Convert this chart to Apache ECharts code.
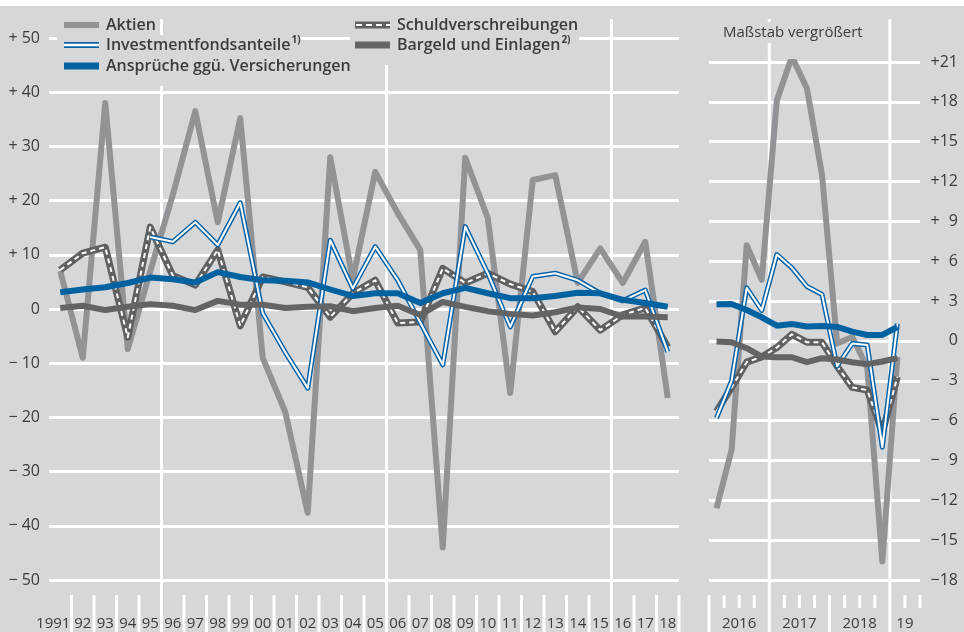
<!DOCTYPE html>
<html>
<head>
<meta charset="utf-8">
<script src="https://cdn.jsdelivr.net/npm/echarts@6/dist/echarts.min.js"></script>
<style>
    html, body { margin: 0; padding: 0; background: #fff; }
    #main { width: 964px; height: 632px; }
</style>
</head>
<body>
<div id="main"></div>
<script>
// Jahreswerte 1991 - 2018
var years = ['1991', '92', '93', '94', '95', '96', '97', '98', '99', '00', '01', '02', '03', '04',
    '05', '06', '07', '08', '09', '10', '11', '12', '13', '14', '15', '16', '17', '18'];
var aktien = [7, -9, 38, -7.4, 7, 21, 36.5, 16, 35.2, -9, -19, -37.6, 28, 5.4,
    25.3, 17.7, 10.9, -44, 27.9, 16.8, -15.5, 23.8, 24.7, 4.8, 11.2, 4.8, 12.4, -16.4];
var fonds = [null, null, null, null, 13.3, 12.4, 16, 11.8, 19.6, -0.8, -8, -14.6, 12.7, 3.8,
    11.5, 5.3, -2.5, -10.3, 15.2, 6.6, -3.3, 6, 6.6, 5.3, 2.9, 1.5, 3.5, -7.9];
var schuldv = [7.2, 10.3, 11.4, -5.2, 15.1, 6.2, 4.4, 10.9, -3.1, 5.9, 5, 4, -1.5, 2.9,
    5.3, -2.6, -2.4, 7.5, 4.8, 6.6, 4.6, 3.2, -4.2, 0.4, -3.9, -1.1, 0.2, -7];
var ansprueche = [3.1, 3.6, 4, 4.8, 5.8, 5.5, 4.9, 6.8, 5.9, 5.3, 5.2, 4.9, 3.6, 2.4,
    2.9, 2.9, 1.1, 2.9, 3.9, 2.9, 2.0, 2.0, 2.4, 3.0, 2.9, 1.7, 1.1, 0.4];
var bargeld = [0.2, 0.6, -0.2, 0.4, 0.9, 0.6, -0.2, 1.5, 0.8, 0.8, 0.2, 0.4, 0.5, -0.4,
    0.2, 0.6, -1.1, 1.3, 0.4, -0.4, -0.9, -1.2, -0.6, 0.3, 0, -1.4, -1.4, -1.5];

// Quartalswerte 2016 Q1 - 2019 Q1 (Maßstab vergrößert)
var quarters = ['2016Q1', '2016Q2', '2016Q3', '2016Q4', '2017Q1', '2017Q2', '2017Q3', '2017Q4',
    '2018Q1', '2018Q2', '2018Q3', '2018Q4', '2019Q1', '2019Q2'];
var quarterLabels = ['', '2016', '', '', '', '2017', '', '', '', '2018', '', '', '19', ''];
var aktienQ = [-12.6, -8.2, 7.2, 4.6, 18.1, 21.4, 19.0, 12.5, -0.2, 0.3, -2.0, -16.6, -1.2];
var fondsQ = [-5.8, -3.0, 4.0, 2.3, 6.5, 5.5, 4.1, 3.5, -1.9, -0.2, -0.3, -8.0, 1.3];
var schuldvQ = [-5.3, -3.5, -1.6, -1.2, -0.5, 0.5, -0.1, -0.1, -1.9, -3.5, -3.7, -6.9, -2.7];
var answerQ = [2.76, 2.78, 2.33, 1.78, 1.15, 1.28, 1.08, 1.13, 1.05, 0.7, 0.45, 0.45, 1.05];
var bargeldQ = [-0.05, -0.1, -0.55, -1.18, -1.23, -1.23, -1.6, -1.3, -1.4, -1.6, -1.75, -1.55, -1.3];

var BG = '#d6d7d9';
var TXT = '#3c3c3e';
var FONT = 'Open Sans';
var C_AKTIEN = '#929397';
var C_BLUE = '#0a63a6';
var C_ANSPR = '#0062a1';
var C_BARG = '#636466';
var C_SCHULD = '#5f6062';

function leftLabel(v) {
    if (v > 0) return '+ ' + v;
    if (v < 0) return '\u2212 ' + (-v);
    return '0';
}
function rightLabel(v) {
    if (v === 0) return '0';
    var a = Math.abs(v);
    return (v > 0 ? '+' : '\u2212') + (a < 10 ? '\u2007' : '') + a;
}

// Linien je Panel (x/y-Index)
function panelSeries(ix, d) {
    var base = { type: 'line', xAxisIndex: ix, yAxisIndex: ix, symbol: 'none', silent: true, animation: false };
    function s(data, style, z) {
        return Object.assign({}, base, { data: data, z: z, lineStyle: Object.assign({ join: 'round', cap: 'butt' }, style) });
    }
    return [
        s(d.aktien, { color: C_AKTIEN, width: 6 }, 2),
        s(d.schuld, { color: C_SCHULD, width: 7 }, 3),
        s(d.schuld, { color: '#ffffff', width: 2, type: [5, 4] }, 4),
        s(d.fonds, { color: C_BLUE, width: 5 }, 5),
        s(d.fonds, { color: '#ffffff', width: 2 }, 6),
        s(d.barg, { color: C_BARG, width: 6 }, 7),
        s(d.anspr, { color: C_ANSPR, width: 6 }, 8)
    ];
}

// weiße Striche an den Kategoriegrenzen, lange Trennlinien an den Jahrzehnt-/Jahresgrenzen
// isLong(i): Strich rechts von Kategorie i bis ganz unten (sonst kurz)
function boundarySeries(ix, cats, majorAfter, withLeftEdge, isLong) {
    return {
        type: 'custom', xAxisIndex: ix, yAxisIndex: ix, silent: true, clip: false, z: 1,
        data: cats.map(function (c, i) { return [i]; }),
        encode: { x: 0 },
        renderItem: function (params, api) {
            var i = api.value(0);
            var cs = params.coordSys;
            var half = api.size([1, 0])[0] / 2;
            var cx = api.coord([i, 0])[0];
            var bottom = api.getHeight();
            var tickTop = cs.y + cs.height + 15;
            var shortEnd = tickTop + 13;
            var style = { stroke: '#ffffff', lineWidth: 3 };
            var xr = cx + half;
            var major = majorAfter.indexOf(i) >= 0;
            var kids = [{
                type: 'line',
                shape: { x1: xr, y1: major ? 19 : tickTop, x2: xr, y2: (major || isLong(i)) ? bottom : shortEnd },
                style: style
            }];
            if (withLeftEdge && i === 0) {
                kids.push({ type: 'line', shape: { x1: cx - half, y1: tickTop, x2: cx - half, y2: bottom }, style: style });
            }
            return { type: 'group', children: kids };
        }
    };
}

// Legende (eigene Zeichnung wegen Doppel- und Strichlinie)
function legendItem(x, y, icon, text) {
    return {
        type: 'group', x: x, y: y, z: 101, children: icon.concat([{
            type: 'text', x: 42, y: 0, z: 101,
            style: {
                text: text, fill: TXT, font: '600 16px "' + FONT + '"', verticalAlign: 'middle',
                rich: {
                    s: { fontSize: 10, fontWeight: 'bold', fill: TXT, fontFamily: FONT, verticalAlign: 'top', padding: [0, 0, 10, 1] }
                }
            }
        }])
    };
}
function bar(color, h) {
    return { type: 'rect', z: 101, shape: { x: 0, y: -h / 2, width: 35, height: h }, style: { fill: color } };
}

var legendGraphics = [
    { type: 'rect', shape: { x: 0, y: 0, width: 964, height: 6 }, style: { fill: '#ffffff' }, z: 100 },
    { type: 'rect', shape: { x: 57, y: 12, width: 102, height: 24 }, style: { fill: BG }, z: 100 },
    { type: 'rect', shape: { x: 57, y: 35, width: 242, height: 21 }, style: { fill: BG }, z: 100 },
    { type: 'rect', shape: { x: 57, y: 55, width: 292, height: 31 }, style: { fill: BG }, z: 100 },
    { type: 'rect', shape: { x: 350, y: 12, width: 229, height: 53 }, style: { fill: BG }, z: 100 },
    legendItem(64, 25, [bar(C_AKTIEN, 6)], 'Aktien'),
    legendItem(64, 45, [bar(C_BLUE, 6), bar('#ffffff', 2.4)], 'Investmentfondsanteile{s|1)}'),
    legendItem(64, 66, [bar(C_ANSPR, 7)], 'Ansprüche ggü. Versicherungen'),
    legendItem(355, 25, [bar(C_SCHULD, 7), {
        type: 'line', z: 102, shape: { x1: 1, y1: 0, x2: 35, y2: 0 },
        style: { stroke: '#ffffff', lineWidth: 2, lineDash: [6, 4] }
    }], 'Schuldverschreibungen'),
    legendItem(355, 45, [bar(C_BARG, 7)], 'Bargeld und Einlagen{s|2)}')
];

var myChart = echarts.init(document.getElementById('main'));
var gridLine = { show: true, lineStyle: { color: '#ffffff', width: 3 } };
var labelStyle = { color: TXT, fontSize: 15, fontFamily: FONT };

var option = {
    backgroundColor: BG,
    animation: false,
    title: {
        text: 'Maßstab vergrößert', left: 719, top: 22, padding: [3, 4],
        backgroundColor: BG, z: 50,
        textStyle: { color: TXT, fontSize: 15, fontWeight: 'normal', fontFamily: FONT }
    },
    grid: [
        { left: 49, top: 38, width: 630, height: 542 },
        { left: 709, top: 62, width: 211, height: 518 }
    ],
    xAxis: [
        {
            gridIndex: 0, type: 'category', data: years, boundaryGap: true, offset: 15, position: 'bottom',
            axisLine: { show: false, onZero: false },
            axisTick: { show: false },
            axisLabel: Object.assign({}, labelStyle, {
                interval: 0, margin: 21,
                formatter: function (v, i) { return i === 0 ? '{f|' + v + '}' : v; },
                rich: { f: { fontSize: 15, fontFamily: FONT, color: TXT, padding: [0, 14, 0, 0] } }
            }),
            splitLine: { show: false }
        },
        {
            gridIndex: 1, type: 'category', data: quarters, boundaryGap: true, offset: 15, position: 'bottom',
            axisLine: { show: false, onZero: false },
            axisTick: { show: false },
            axisLabel: Object.assign({}, labelStyle, {
                interval: 0, margin: 21,
                formatter: function (v, i) { return quarterLabels[i] ? '{p|' + quarterLabels[i] + '}' : ''; },
                rich: { p: { fontSize: 15, fontFamily: FONT, color: TXT, padding: [0, 0, 0, 15] } }
            }),
            splitLine: { show: false }
        }
    ],
    yAxis: [
        {
            gridIndex: 0, type: 'value', min: -50, max: 50, interval: 10,
            axisLine: { show: false }, axisTick: { show: false },
            axisLabel: Object.assign({}, labelStyle, { fontSize: 16, margin: 9, formatter: leftLabel }),
            splitLine: gridLine
        },
        {
            gridIndex: 1, type: 'value', min: -18, max: 21, interval: 3, position: 'right',
            axisLine: { show: false }, axisTick: { show: false },
            axisLabel: Object.assign({}, labelStyle, { fontSize: 16, margin: 38, align: 'right', formatter: rightLabel }),
            splitLine: gridLine
        }
    ],
    graphic: legendGraphics,
    series: [
        boundarySeries(0, years, [4, 14, 24], false, function () { return true; }),
        boundarySeries(1, quarters, [3, 11], true, function (i) { return i === 7; })
    ].concat(panelSeries(0, { aktien: aktien, schuld: schuldv, fonds: fonds, barg: bargeld, anspr: ansprueche }))
     .concat(panelSeries(1, { aktien: aktienQ, schuld: schuldvQ, fonds: fondsQ, barg: bargeldQ, anspr: answerQ }))
};
myChart.setOption(option);
</script>
</body>
</html>
